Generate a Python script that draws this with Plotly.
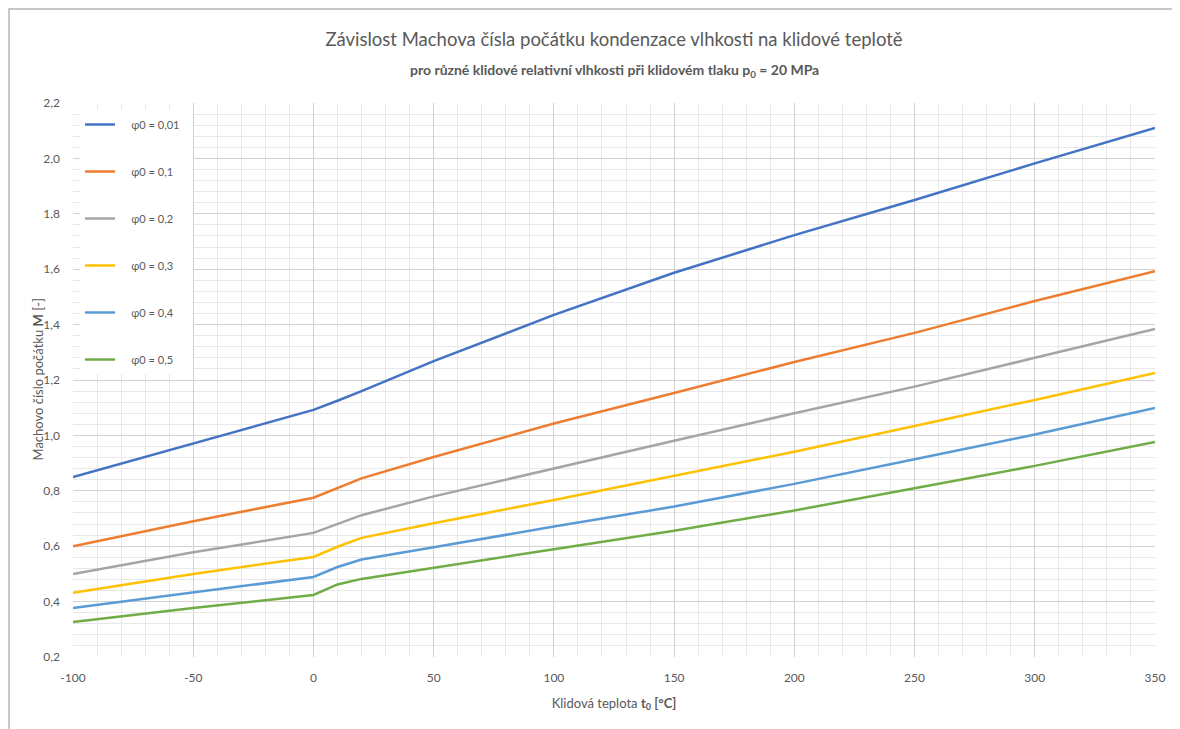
import plotly.graph_objects as go

# temperature t0 [°C]
t0 = [-100, -50, 0, 10, 20, 50, 100, 150, 200, 250, 300, 350]
x_ticks = [-100, -50, 0, 50, 100, 150, 200, 250, 300, 350]
x_labels = ["-100", "-50", "0", "50", "100", "150", "200", "250", "300", "350"]

# Mach number at condensation onset for each rest relative humidity
m_001 = [0.850, 0.970, 1.092, 1.125, 1.160, 1.268, 1.435, 1.587, 1.723, 1.850, 1.982, 2.110]
m_01 = [0.600, 0.690, 0.775, 0.810, 0.845, 0.922, 1.043, 1.153, 1.265, 1.370, 1.485, 1.593]
m_02 = [0.500, 0.578, 0.648, 0.680, 0.712, 0.780, 0.881, 0.981, 1.080, 1.176, 1.280, 1.384]
m_03 = [0.432, 0.500, 0.561, 0.598, 0.630, 0.683, 0.767, 0.853, 0.941, 1.034, 1.128, 1.225]
m_04 = [0.377, 0.434, 0.489, 0.525, 0.552, 0.596, 0.671, 0.743, 0.825, 0.914, 1.003, 1.099]
m_05 = [0.326, 0.377, 0.424, 0.462, 0.482, 0.523, 0.589, 0.656, 0.729, 0.809, 0.890, 0.976]

names = ["φ0 = 0,01", "φ0 = 0,1", "φ0 = 0,2", "φ0 = 0,3", "φ0 = 0,4", "φ0 = 0,5"]
series = [m_001, m_01, m_02, m_03, m_04, m_05]
colors = ["#4472C4", "#ED7D31", "#A5A5A5", "#FFC000", "#5B9BD5", "#70AD47"]

font = "Lato, 'Open Sans', sans-serif"
txt = "#595959"
pad = "\u00a0" * 4

fig = go.Figure()
for i, (name, vals, col) in enumerate(zip(names, series, colors)):
    fig.add_trace(go.Scatter(
        x=t0, y=vals, name=pad + name + "\u00a0" * 3, mode="lines",
        line=dict(color=col, width=2.5),
        legendgroup=str(i),
    ))

# page body has an 8px margin, so the figure is 8px smaller and shifted
fig.update_layout(
    width=1172, height=721,
    margin=dict(l=65, r=25, t=95, b=72),
    paper_bgcolor="white", plot_bgcolor="white",
    separators=", ",
    font=dict(family=font, color=txt, size=12),
    title=dict(
        text="Závislost Machova čísla počátku kondenzace vlhkosti na klidové teplotě",
        x=0.5, xanchor="center", xref="paper",
        y=1 - 32 / 721, yanchor="middle", yref="container",
        font=dict(family=font, size=18.5, color=txt),
    ),
    annotations=[
        dict(
            text="<b>pro různé klidové relativní vlhkosti při klidovém tlaku p<sub>0</sub> = 20 MPa</b>",
            xref="paper", yref="paper", x=0.5, y=(649 - 62) / 554,
            xanchor="center", yanchor="middle", showarrow=False,
            font=dict(family=font, size=14, color=txt),
        ),
        dict(
            text="Machovo číslo počátku <b>M</b> [-]", textangle=-90,
            xref="paper", yref="paper", x=(29.5 - 65) / 1082, y=0.5,
            xanchor="center", yanchor="middle", showarrow=False,
            font=dict(family=font, size=13, color=txt),
        ),
    ],
    legend=dict(
        x=7 / 1082, y=1 - 7 / 554, xanchor="left", yanchor="top",
        bgcolor="white", borderwidth=0,
        font=dict(family=font, size=11, color=txt),
        tracegroupgap=28, itemwidth=30,
    ),
    xaxis=dict(
        range=[-100, 350], tickvals=x_ticks, ticktext=x_labels,
        showgrid=True, gridcolor="#D2D2D2", gridwidth=1,
        minor=dict(dtick=10, tick0=0, showgrid=True, gridcolor="#E8E8E8"),
        zeroline=False, showline=False, ticks="", ticklabelstandoff=12,
        tickfont=dict(family=font, size=12, color=txt),
        title=dict(text="Klidová teplota <b>t<sub>0</sub> [°C]</b>",
                   font=dict(family=font, size=13, color=txt), standoff=14),
    ),
    yaxis=dict(
        range=[0.2, 2.2], dtick=0.2, tick0=0.2, tickformat=".1f",
        showgrid=True, gridcolor="#D2D2D2", gridwidth=1,
        minor=dict(dtick=0.04, tick0=0.2, showgrid=True, gridcolor="#E8E8E8"),
        zeroline=False, showline=False, ticks="", ticklabelstandoff=12,
        tickfont=dict(family=font, size=12, color=txt),
    ),
    shapes=[
        # outer chart frame
        dict(type="rect", xref="paper", yref="paper",
             x0=(1 - 65) / 1082, x1=(1170 - 65) / 1082, y0=-0.3, y1=(649 - 1) / 554,
             line=dict(color="#C8C8C8", width=2), fillcolor="rgba(0,0,0,0)", layer="below"),
    ],
)

fig.write_html("out.html")
